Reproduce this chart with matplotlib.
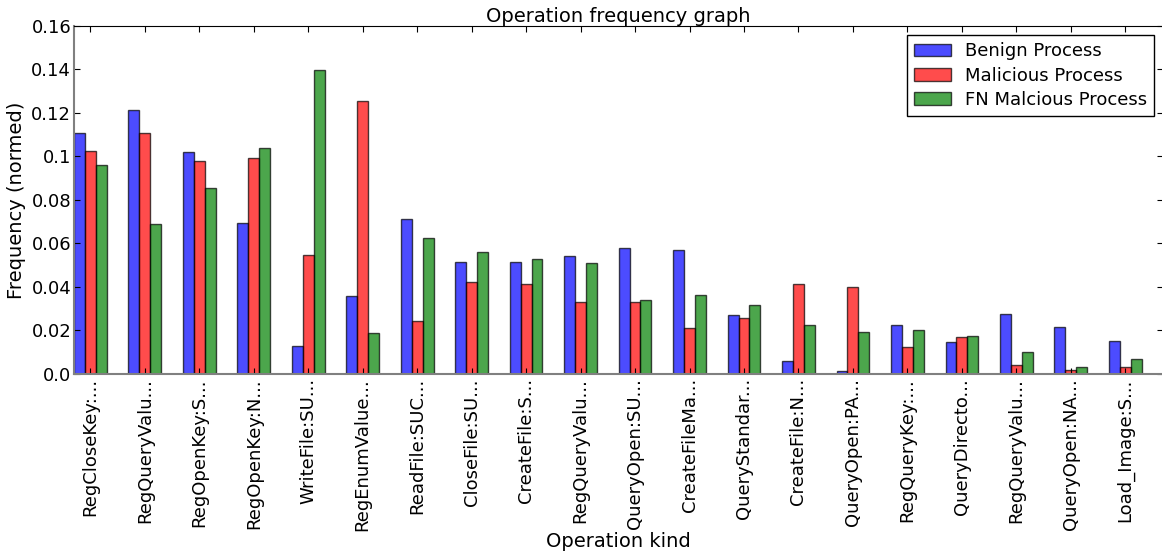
import numpy as np
import matplotlib
matplotlib.use("Agg")
import matplotlib.pyplot as plt
from matplotlib.ticker import FixedLocator, FixedFormatter

operations = [
    "RegCloseKey:...", "RegQueryValu...", "RegOpenKey:S...", "RegOpenKey:N...",
    "WriteFile:SU...", "RegEnumValue...", "ReadFile:SUC...", "CloseFile:SU...",
    "CreateFile:S...", "RegQueryValu...", "QueryOpen:SU...", "CreateFileMa...",
    "QueryStandar...", "CreateFile:N...", "QueryOpen:PA...", "RegQueryKey:...",
    "QueryDirecto...", "RegQueryValu...", "QueryOpen:NA...", "Load_Image:S...",
]

benign = [0.1107, 0.1215, 0.1021, 0.0696, 0.0129, 0.0360, 0.0712, 0.0516,
          0.0516, 0.0542, 0.0579, 0.0568, 0.0271, 0.0058, 0.0015, 0.0223,
          0.0147, 0.0276, 0.0214, 0.0152]
malicious = [0.1027, 0.1107, 0.0980, 0.0992, 0.0547, 0.1257, 0.0245, 0.0421,
             0.0416, 0.0331, 0.0329, 0.0211, 0.0257, 0.0413, 0.0401, 0.0122,
             0.0171, 0.0041, 0.0018, 0.0032]
fn_malicious = [0.0961, 0.0690, 0.0856, 0.1041, 0.1396, 0.0188, 0.0625, 0.0559,
                0.0528, 0.0510, 0.0338, 0.0363, 0.0315, 0.0226, 0.0194, 0.0203,
                0.0175, 0.0102, 0.0034, 0.0069]

y_ticks = [0.0, 0.02, 0.04, 0.06, 0.08, 0.10, 0.12, 0.14, 0.16]
y_tick_labels = ["0.0", "0.02", "0.04", "0.06", "0.08", "0.1", "0.12", "0.14", "0.16"]

plt.rcParams["font.family"] = ["DejaVu Sans"]
plt.rcParams["font.size"] = 13

fig = plt.figure(figsize=(11.62, 5.53), dpi=100)
ax = fig.add_axes([0.0637, 0.3237, 0.9375, 0.6293])

index = np.arange(len(operations))
bar_width = 0.2
style = dict(alpha=0.7, edgecolor="black", linewidth=1, align="edge")

ax.bar(index, benign, bar_width, color="b", label="Benign Process", **style)
ax.bar(index + bar_width, malicious, bar_width, color="r", label="Malicious Process", **style)
ax.bar(index + 2 * bar_width, fn_malicious, bar_width, color="g", label="FN Malcious Process", **style)

ax.set_xlim(0, len(operations))
ax.set_ylim(0, 0.16)
ax.xaxis.set_major_locator(FixedLocator(index + 1.5 * bar_width))
ax.xaxis.set_major_formatter(FixedFormatter(operations))
ax.yaxis.set_major_locator(FixedLocator(y_ticks))
ax.yaxis.set_major_formatter(FixedFormatter(y_tick_labels))
for lab in ax.get_xticklabels():
    lab.set_rotation(90)
ax.tick_params(direction="in", top=True, right=True, length=4, labelsize=13)
ax.tick_params(axis="x", pad=3)
ax.tick_params(axis="y", pad=2)

for side in ("bottom", "left"):
    ax.spines[side].set_color("0.5")
    ax.spines[side].set_linewidth(1.5)

ax.set_title("Operation frequency graph", fontsize=14, pad=3)
ax.set_xlabel("Operation kind", fontsize=14)
ax.xaxis.set_label_coords(0.5, -0.455)
ax.set_ylabel("Frequency (normed)", fontsize=14, labelpad=4)

leg = ax.legend(loc="upper right", fontsize=13, fancybox=False, framealpha=1,
                edgecolor="black", borderaxespad=0.5, borderpad=0.4,
                handlelength=2.0, handleheight=0.7, handletextpad=0.8,
                labelspacing=0.35)
leg.get_frame().set_linewidth(1)

fig.savefig("out.png", dpi=100)
